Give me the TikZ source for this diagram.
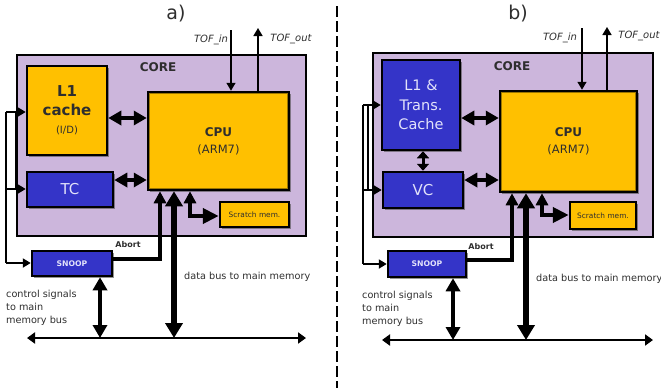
\documentclass[tikz,border=0pt]{standalone}
\usepackage{fontspec}
\setmainfont{DejaVu Sans}
\usepackage{xcolor}
\definecolor{Lilac}{HTML}{CCB6DC}
\definecolor{Amber}{HTML}{FFC000}
\definecolor{AmberDark}{HTML}{9C7600}
\definecolor{Royal}{HTML}{3434C8}
\definecolor{Mist}{HTML}{E2E2FA}
\definecolor{Ink}{HTML}{2E2E2E}
\colorlet{lilac}{Lilac}
\colorlet{amber}{Amber}
\colorlet{amberdark}{AmberDark}
\colorlet{royal}{Royal}
\colorlet{mist}{Mist}
\colorlet{ink}{Ink}
\usepackage{tikz}
\usetikzlibrary{arrows.meta,positioning,shadows}

\begin{document}
\begin{tikzpicture}[x=1pt,y=-1pt,
  every node/.style={font=\fontsize{9.7}{13}\selectfont,align=center,text=ink,inner sep=0pt},
  boxshadow/.style={drop shadow={shadow xshift=1.5pt,shadow yshift=-1.5pt,fill=black!70,opacity=.6}},
  corebox/.style={draw=black,line width=2pt,fill=lilac},
  goldbox/.style={draw=black,line width=2.5pt,fill=amber,boxshadow},
  bluebox/.style={draw=black,line width=2.5pt,fill=royal,text=mist,boxshadow},
  panellbl/.style={font=\fontsize{19}{19}\selectfont},
  corelbl/.style={font=\bfseries\fontsize{12}{12}\selectfont},
  toflbl/.style={font=\itshape\fontsize{10}{10}\selectfont},
  abortlbl/.style={font=\bfseries\fontsize{8}{8}\selectfont},
  biarrow/.style={line width=3.5pt,{Triangle[length=13pt,width=14pt]}-{Triangle[length=13pt,width=14pt]}},
  smallbi/.style={line width=3pt,{Triangle[length=7pt,width=12pt]}-{Triangle[length=7pt,width=12pt]}},
  busarrow/.style={line width=5.5pt,{Triangle[length=15pt,width=17pt]}-{Triangle[length=15pt,width=17pt]}},
  abortarrow/.style={line width=4pt,-{Triangle[length=12pt,width=12pt]}},
  scratcharrow/.style={line width=4pt,{Triangle[length=12pt,width=12pt]}-{Triangle[length=16pt,width=15pt]}},
  feedline/.style={line width=2.5pt},
  feedarrow/.style={line width=2.5pt,-{Triangle[length=8pt,width=9pt]}},
  tofarrow/.style={line width=1.5pt,-{Triangle[length=8pt,width=9pt]}},
  memline/.style={line width=2.5pt,{Triangle[length=8pt,width=11pt]}-{Triangle[length=8pt,width=11pt]}},
  sepline/.style={line width=2.5pt,dash pattern=on 10.5pt off 4.5pt}]
\useasboundingbox (0,0) rectangle (661,388);

\coordinate (sepT) at (337,6); \coordinate (sepB) at (337,388);
\draw[sepline] (sepT)--(sepB);

% a)
\node[panellbl] (labA) at (176,14) {a)};
\node[corebox,minimum width=289pt,minimum height=181pt] (coreA) at (161.5,145.5) {};
\node[corelbl] (coretxtA) at (158,67) {CORE};
\node[goldbox,minimum width=80pt,minimum height=89pt,font=\bfseries\fontsize{15}{18.5}\selectfont] (l1A) at (67,110.5) {L1\\cache\\{\mdseries\fontsize{10}{12}\selectfont (I/D)}};
\node[goldbox,minimum width=141pt,minimum height=98pt,font=\bfseries\fontsize{12}{17}\selectfont] (cpuA) at (218.5,141) {CPU\\{\mdseries\fontsize{11.5}{12}\selectfont (ARM7)}};
\draw[amberdark,line width=1.2pt] ([shift={(2.5,2.5)}]cpuA.north west) rectangle ([shift={(-2.5,-2.5)}]cpuA.south east);
\node[bluebox,minimum width=86pt,minimum height=35pt,font=\fontsize{15}{15}\selectfont] (tcA) at (70,189.5) {TC};
\node[goldbox,minimum width=69pt,minimum height=25pt,font=\fontsize{7.4}{7.4}\selectfont] (scratchA) at (254.5,214.5) {Scratch mem.};
\node[bluebox,minimum width=80pt,minimum height=25pt,font=\bfseries\fontsize{7.7}{7.7}\selectfont] (snoopA) at (72,263.5) {SNOOP};
\node[toflbl] (tofintxtA) at (211,40) {TOF\_in};
\node[toflbl] (tofouttxtA) at (291,39) {TOF\_out};
\node[abortlbl] (aborttxtA) at (128,245) {Abort};
\node[anchor=west] (datatxtA) at (184,277) {data bus to main memory};
\node[anchor=north west,align=left] (ctrltxtA) at (6,290) {control signals\\to main\\memory bus};

\coordinate (tofinA) at (231,30); \coordinate (tofoutA) at (258,28);
\coordinate (busAl) at (27,338); \coordinate (busAr) at (306,338);
\coordinate (abortA) at (160,259); \coordinate (dataA) at (174,338);
\coordinate (scrA) at (190,216); \coordinate (sbA) at (100,338);
\coordinate (fbA1) at (6,112); \coordinate (fbA2) at (6,189); \coordinate (fbA3) at (6,263);
\coordinate (fbA4) at (16,112); \coordinate (fbA5) at (16,189);

\draw[tofarrow] (tofinA)--(tofinA |- cpuA.north); \draw[tofarrow] (tofoutA |- cpuA.north)--(tofoutA);
\draw[biarrow] (l1A.east |- 0,118)--(cpuA.west |- 0,118); \draw[biarrow] (tcA.east |- 0,180)--(cpuA.west |- 0,180);
\draw[abortarrow] (snoopA.east |- abortA)-|(abortA |- cpuA.south);
\draw[busarrow] (dataA |- cpuA.south)--(dataA);
\draw[scratcharrow] (scrA |- cpuA.south)|-(scratchA.west |- scrA);
\draw[biarrow] (sbA |- snoopA.south)--(sbA);
\draw[memline] (busAl)--(busAr);
\draw[feedline] (fbA1)--(fbA3); \draw[feedline] (fbA4)--(fbA5);
\draw[feedarrow] (fbA1)--(l1A.west |- fbA1); \draw[feedarrow] (fbA2)--(tcA.west |- fbA2); \draw[feedarrow] (fbA3)--(snoopA.west |- fbA3);

% b)
\node[panellbl] (labB) at (518,14) {b)};
\node[corebox,minimum width=280pt,minimum height=184pt] (coreB) at (513,145) {};
\node[corelbl] (coretxtB) at (512,66) {CORE};
\node[bluebox,minimum width=78pt,minimum height=90pt,font=\fontsize{14.5}{19.5}\selectfont] (l1B) at (421,105) {L1 \&\\Trans.\\Cache};
\node[goldbox,minimum width=137pt,minimum height=101pt,font=\bfseries\fontsize{12}{17}\selectfont] (cpuB) at (568.5,141.5) {CPU\\{\mdseries\fontsize{11.5}{12}\selectfont (ARM7)}};
\draw[amberdark,line width=1.2pt] ([shift={(2.5,2.5)}]cpuB.north west) rectangle ([shift={(-2.5,-2.5)}]cpuB.south east);
\node[bluebox,minimum width=80pt,minimum height=36pt,font=\fontsize{15}{15}\selectfont] (vcB) at (423,190) {VC};
\node[goldbox,minimum width=66pt,minimum height=27pt,font=\fontsize{7.4}{7.4}\selectfont] (scratchB) at (603,215.5) {Scratch mem.};
\node[bluebox,minimum width=78pt,minimum height=26pt,font=\bfseries\fontsize{7.7}{7.7}\selectfont] (snoopB) at (427,264) {SNOOP};
\node[toflbl] (tofintxtB) at (560,38) {TOF\_in};
\node[toflbl] (tofouttxtB) at (639,36) {TOF\_out};
\node[abortlbl] (aborttxtB) at (481,247) {Abort};
\node[anchor=west] (datatxtB) at (536,279) {data bus to main memory};
\node[anchor=north west,align=left] (ctrltxtB) at (362,291) {control signals\\to main\\memory bus};

\coordinate (tofinB) at (582,28); \coordinate (tofoutB) at (607,27);
\coordinate (busBl) at (382,340); \coordinate (busBr) at (653,340);
\coordinate (abortB) at (512,260); \coordinate (dataB) at (526,340);
\coordinate (scrB) at (542,215); \coordinate (sbB) at (453,340);
\coordinate (fbB1) at (363,105); \coordinate (fbB2) at (363,190); \coordinate (fbB3) at (363,264);
\coordinate (fbB4) at (368,105); \coordinate (fbB5) at (368,190);

\draw[tofarrow] (tofinB)--(tofinB |- cpuB.north); \draw[tofarrow] (tofoutB |- cpuB.north)--(tofoutB);
\draw[biarrow] (l1B.east |- 0,118)--(cpuB.west |- 0,118); \draw[biarrow] (vcB.east |- 0,180)--(cpuB.west |- 0,180);
\draw[smallbi] (vcB.north |- l1B.south)--(vcB.north);
\draw[abortarrow] (snoopB.east |- abortB)-|(abortB |- cpuB.south);
\draw[busarrow] (dataB |- cpuB.south)--(dataB);
\draw[scratcharrow] (scrB |- cpuB.south)|-(scratchB.west |- scrB);
\draw[biarrow] (sbB |- snoopB.south)--(sbB);
\draw[memline] (busBl)--(busBr);
\draw[feedline] (fbB1)--(fbB3); \draw[feedline] (fbB4)--(fbB5);
\draw[feedarrow] (fbB1)--(l1B.west |- fbB1); \draw[feedarrow] (fbB2)--(vcB.west |- fbB2); \draw[feedarrow] (fbB3)--(snoopB.west |- fbB3);
\end{tikzpicture}
\end{document}
